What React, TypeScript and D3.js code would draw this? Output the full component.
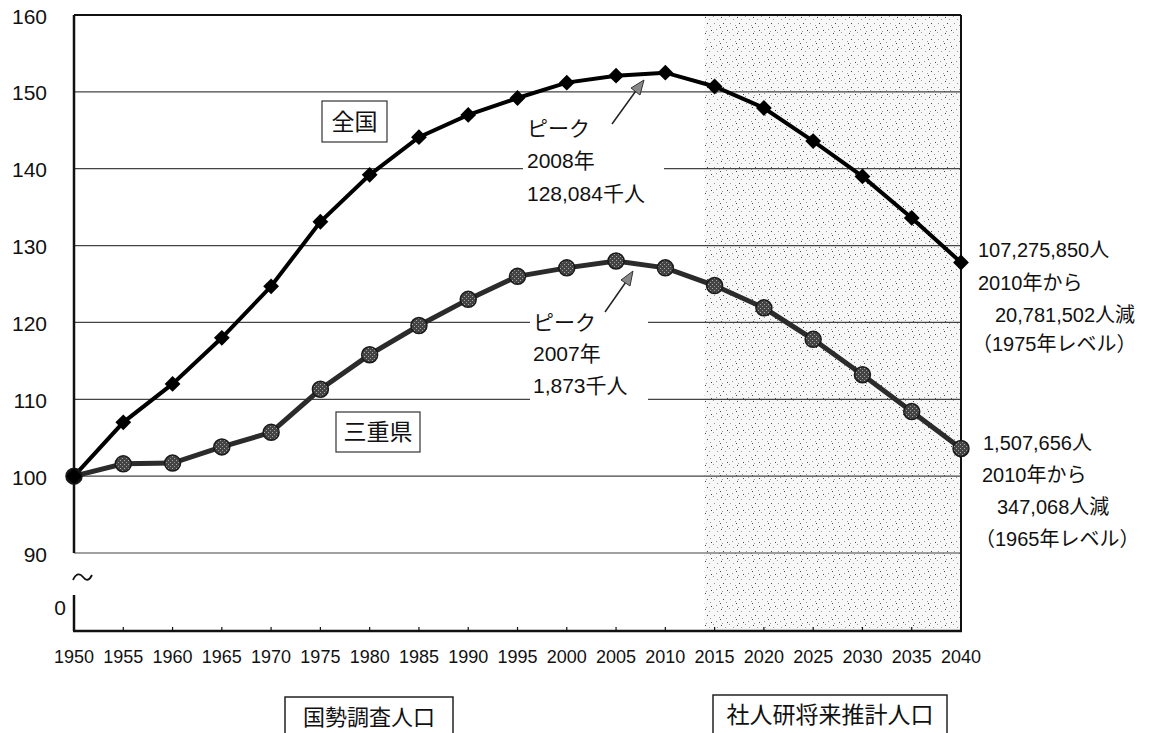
import React from "react";
import * as d3 from "d3";

const years = [1950, 1955, 1960, 1965, 1970, 1975, 1980, 1985, 1990, 1995, 2000, 2005, 2010, 2015, 2020, 2025, 2030, 2035, 2040];
const nationalIndex = [100, 107.0, 112.0, 118.0, 124.7, 133.1, 139.2, 144.1, 147.0, 149.2, 151.2, 152.1, 152.5, 150.7, 147.9, 143.6, 139.0, 133.6, 127.8];
const mieIndex = [100, 101.6, 101.7, 103.8, 105.7, 111.3, 115.8, 119.6, 123.0, 126.0, 127.1, 128.0, 127.1, 124.8, 121.9, 117.8, 113.2, 108.4, 103.6];
const yTicks = [90, 100, 110, 120, 130, 140, 150, 160];
const projectionStart = 2014;

const nationalLabel = "全国";
const mieLabel = "三重県";
const peakNational = ["ピーク", "2008年", "128,084千人"];
const peakMie = ["ピーク", "2007年", "1,873千人"];
const endNational = ["107,275,850人", "2010年から", "20,781,502人減", "（1975年レベル）"];
const endMie = ["1,507,656人", "2010年から", "347,068人減", "（1965年レベル）"];
const censusLabel = "国勢調査人口";
const projLabel = "社人研将来推計人口";

const FONT = "'Liberation Sans', Arial, 'Noto Sans CJK JP', sans-serif";

const dotPts: [number, number][] = [
  [1, 1], [5, 3], [9, 0], [3, 7], [10, 7], [6, 10], [0, 11], [13, 3], [12, 13], [7, 14], [15, 9], [2, 15],
];

export default function App() {
  const W = 1157, H = 733;
  const x = d3.scaleLinear().domain([1950, 2040]).range([74, 961]);
  const y = d3.scaleLinear().domain([90, 160]).range([553, 15]);
  const yTop = y(160), yBreak = y(90), yBottom = 631;
  const line = d3.line<number>().x((_, i) => x(years[i])).y((v) => y(v));
  const diamond = d3.symbol().type(d3.symbolSquare).size(125)() as string;

  const txt = (s: string, tx: number, ty: number, size = 20, anchor = "start", key?: any) => (
    <text key={key} x={tx} y={ty} fontSize={size} textAnchor={anchor} dominantBaseline="central" fontFamily={FONT} fill="#111">{s}</text>
  );

  return (
    <svg width={W} height={H} style={{ position: "absolute", left: 0, top: 0, background: "#fff" }}>
      <defs>
        <pattern id="stip" width="16" height="16" patternUnits="userSpaceOnUse">
          <rect width="16" height="16" fill="#f7f7f7" />
          {dotPts.map(([a, b], i) => (
            <rect key={i} x={a} y={b} width="1" height="1" fill={i % 3 === 0 ? "#444" : "#9a9a9a"} />
          ))}
        </pattern>
        <pattern id="ball" width="4" height="4" patternUnits="userSpaceOnUse">
          <rect width="4" height="4" fill="#444" />
          <rect x="0" y="0" width="1" height="1" fill="#aaa" />
          <rect x="2" y="2" width="1" height="1" fill="#999" />
        </pattern>
      </defs>
      <rect width={W} height={H} fill="#fff" />

      <rect x={x(projectionStart)} y={yTop} width={x(2040) - x(projectionStart)} height={yBottom - yTop} fill="url(#stip)" />

      {yTicks.filter((t) => t < 160).map((t) => (
        <line key={t} x1={x(1950)} x2={x(2040)} y1={y(t)} y2={y(t)} stroke="#444" strokeWidth={1.2} />
      ))}

      <line x1={x(1950)} x2={x(2040)} y1={yTop} y2={yTop} stroke="#111" strokeWidth={2} />
      <line x1={x(2040)} x2={x(2040)} y1={yTop} y2={yBottom} stroke="#111" strokeWidth={2} />
      <line x1={x(1950)} x2={x(1950)} y1={yTop} y2={yBreak} stroke="#111" strokeWidth={2.5} />
      <line x1={x(1950)} x2={x(1950)} y1={595} y2={yBottom} stroke="#111" strokeWidth={2.5} />
      <line x1={x(1950) - 1} x2={x(2040) + 1} y1={yBottom} y2={yBottom} stroke="#111" strokeWidth={2.5} />
      {years.slice(1, -1).map((yr) => (
        <line key={yr} x1={x(yr)} x2={x(yr)} y1={yBottom} y2={yBottom - 4} stroke="#111" strokeWidth={1.2} />
      ))}

      {yTicks.map((t) => txt(String(t), 47, y(t) + 1, 21, "end", "yt" + t))}
      {txt("0", 66, 607, 21, "end")}
      <path d="M73,580 C76,573 80,573 83,577 C86,581 89,581 92,575" fill="none" stroke="#111" strokeWidth={1.8} />

      {years.map((yr) => txt(String(yr), x(yr), 657, 18, "middle", "xt" + yr))}

      <rect x={523} y={104} width={141} height={106} fill="#fff" />
      <rect x={530} y={300} width={118} height={104} fill="#fff" />

      <path d={line(mieIndex) as string} fill="none" stroke="#2b2b2b" strokeWidth={5} />
      <path d={line(nationalIndex) as string} fill="none" stroke="#000" strokeWidth={4} />

      {mieIndex.map((v, i) => (
        <circle key={"m" + i} cx={x(years[i])} cy={y(v)} r={8} fill={i === 0 ? "#111" : "url(#ball)"} stroke="#1a1a1a" strokeWidth={1.5} />
      ))}
      {nationalIndex.map((v, i) => (
        <path key={"n" + i} d={diamond} transform={`translate(${x(years[i])},${y(v)}) rotate(45)`} fill="#000" />
      ))}

      <rect x={322} y={101} width={65} height={41} fill="#fff" stroke="#333" strokeWidth={1.2} />
      {txt(nationalLabel, 354.5, 122, 23, "middle")}
      <rect x={336} y={412} width={84} height={40} fill="#fff" stroke="#333" strokeWidth={1.2} />
      {txt(mieLabel, 378, 432, 23, "middle")}

      {peakNational.map((s, i) => txt(s, 527, 128 + i * 32.5, 21, "start", "pn" + i))}
      {peakMie.map((s, i) => txt(s, 533, 322 + i * 31.5, 21, "start", "pm" + i))}

      <line x1={612} y1={124} x2={638} y2={88} stroke="#222" strokeWidth={1.5} />
      <path d="M644,80 L631,88 L640,95 Z" fill="#888" stroke="#333" strokeWidth={1} />
      <line x1={605} y1={312} x2={628} y2={279} stroke="#222" strokeWidth={1.5} />
      <path d="M633,271 L621,280 L630,286 Z" fill="#888" stroke="#333" strokeWidth={1} />

      {txt(endNational[0], 978, 250, 20)}
      {txt(endNational[1], 978, 283, 20)}
      {txt(endNational[2], 995, 315, 20)}
      {txt(endNational[3], 972, 344, 20)}
      {txt(endMie[0], 983, 443, 20)}
      {txt(endMie[1], 982, 475, 20)}
      {txt(endMie[2], 997, 507, 20)}
      {txt(endMie[3], 975, 539, 20)}

      <rect x={285} y={697} width={168} height={60} fill="#fff" stroke="#222" strokeWidth={1.5} />
      {txt(censusLabel, 369, 717, 22, "middle")}
      <rect x={713} y={695} width={234} height={60} fill="#fff" stroke="#222" strokeWidth={1.5} />
      {txt(projLabel, 830, 715, 23, "middle")}
    </svg>
  );
}
